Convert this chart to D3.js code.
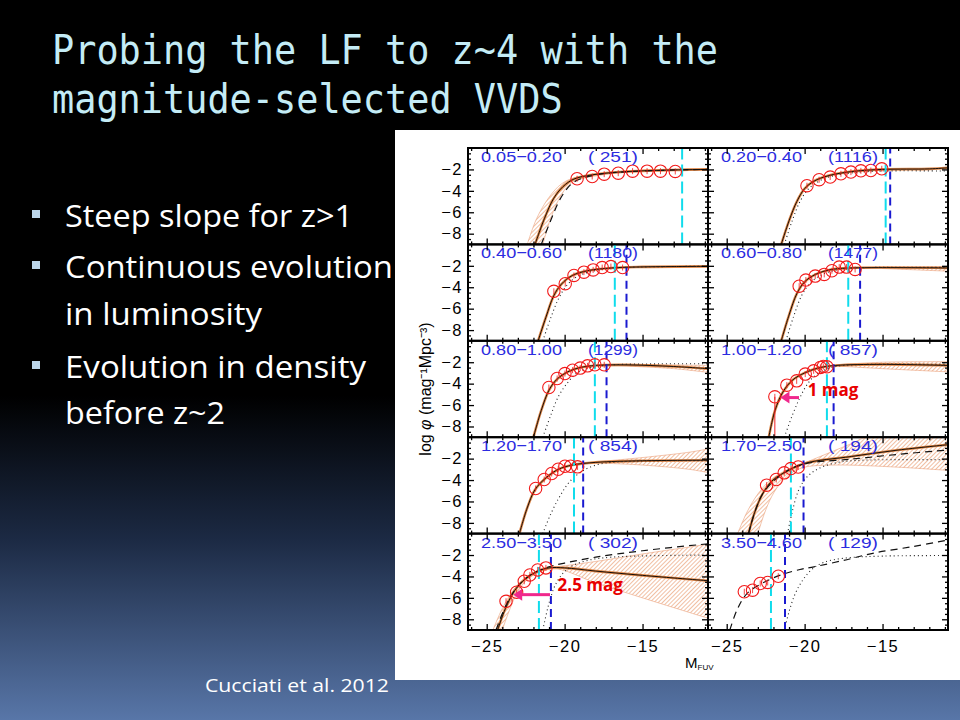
<!DOCTYPE html>
<html>
<head>
<meta charset="UTF-8">
<title>Probing the LF to z~4</title>
<script src="https://d3js.org/d3.v7.min.js"></script>
<style>
  body { margin: 0; background: #000; }
  svg { display: block; }
</style>
</head>
<body>
<svg></svg>
<script>
// ---- slide text ----
const titleLines = ["Probing the LF to z~4 with the", "magnitude-selected VVDS"];
const bulletLines = [
  {text: "Steep slope for z>1", bullet: true},
  {text: "Continuous evolution", bullet: true},
  {text: "in luminosity", bullet: false},
  {text: "Evolution in density", bullet: true},
  {text: "before z~2", bullet: false}
];
const credit = "Cucciati et al. 2012";

// ---- panels (redshift bins) ----
const zLabels = ["0.05−0.20", "0.20−0.40", "0.40−0.60", "0.60−0.80", "0.80−1.00",
                 "1.00−1.20", "1.20−1.70", "1.70−2.50", "2.50−3.50", "3.50−4.60"];
const counts = ["( 251)", "(1116)", "(1180)", "(1477)", "(1299)",
                "( 857)", "( 854)", "( 194)", "( 302)", "( 129)"];
const cyanM = [-12.46, -14.8, -16.78, -17.2, -18.06, -18.57, -19.4, -20.88, -21.65, -22.16];
const blueM = [null, -14.51, -16.03, -16.44, -17.31, -18.14, -18.81, -20.07, -20.88, -21.26];

// data points [M_FUV, log phi]
const points = [
  [[-19.2,-2.87],[-18.23,-2.66],[-17.46,-2.44],[-16.56,-2.35],[-15.64,-2.16],[-14.71,-2.16],[-13.85,-2.16],[-12.9,-2.19]],
  [[-19.85,-3.52],[-19.07,-2.96],[-18.36,-2.71],[-17.67,-2.41],[-17.03,-2.25],[-16.39,-2.13],[-15.75,-2.1],[-15.05,-1.94]],
  [[-20.69,-4.38],[-19.96,-3.67],[-19.4,-2.9],[-18.76,-2.59],[-18.17,-2.38],[-17.59,-2.16],[-17.03,-2.07],[-16.28,-2.16]],
  [[-20.35,-3.9],[-19.92,-3.33],[-19.32,-2.96],[-18.74,-2.8],[-18.25,-2.46],[-17.78,-2.12],[-17.31,-2.12],[-16.76,-2.34]],
  [[-21.01,-4.36],[-20.48,-3.52],[-19.98,-3.06],[-19.49,-2.74],[-19.0,-2.55],[-18.53,-2.34],[-18.06,-2.24],[-17.46,-2.24]],
  [[-21.91,-5.23],[-21.14,-4.14],[-20.51,-3.74],[-19.96,-3.11],[-19.42,-2.8],[-18.99,-2.49],[-18.8,-2.4],[-18.57,-2.43]],
  [[-21.86,-4.79],[-21.31,-3.95],[-20.83,-3.39],[-20.41,-2.99],[-19.98,-2.71],[-19.62,-2.71],[-19.17,-2.77]],
  [[-22.44,-4.48],[-21.82,-3.95],[-21.31,-3.33],[-20.88,-2.93],[-20.41,-2.78]],
  [[-23.76,-6.32],[-23.08,-5.47],[-22.59,-4.45],[-22.23,-3.86],[-21.73,-3.39],[-21.2,-3.2]],
  [[-23.87,-5.43],[-23.34,-5.28],[-22.85,-4.66],[-22.37,-4.56],[-21.69,-3.98]]
];

// Schechter fit (solid)
const fits = [
  [[-21.9,-9],[-21.3,-6.6],[-20.7,-4.7],[-20.1,-3.6],[-19.4,-2.9],[-18.2,-2.5],[-16,-2.2],[-13,-2.05],[-10.8,-2.0]],
  [[-21.5,-9],[-21.0,-6.8],[-20.5,-5.0],[-20.0,-3.8],[-19.4,-3.1],[-18.5,-2.6],[-17,-2.2],[-15,-2.0],[-12,-1.95],[-10.8,-1.85]],
  [[-21.7,-9],[-21.2,-6.8],[-20.7,-4.8],[-20.2,-3.7],[-19.5,-2.9],[-18.5,-2.45],[-17,-2.2],[-15,-2.1],[-10.8,-2.05]],
  [[-21.5,-9],[-21.0,-6.6],[-20.5,-4.6],[-20.0,-3.5],[-19.3,-2.8],[-18.3,-2.35],[-17,-2.2],[-10.8,-2.2]],
  [[-22.0,-9],[-21.5,-6.5],[-21.0,-4.6],[-20.5,-3.6],[-19.8,-2.9],[-19.0,-2.5],[-18.0,-2.3],[-16,-2.25],[-13,-2.4],[-10.8,-2.6]],
  [[-22.3,-9],[-21.9,-6.5],[-21.4,-4.8],[-20.8,-3.7],[-20.0,-3.0],[-19.0,-2.5],[-18.0,-2.3],[-15,-2.2],[-10.8,-2.3]],
  [[-22.9,-9],[-22.4,-6.6],[-21.9,-4.9],[-21.2,-3.8],[-20.4,-3.0],[-19.5,-2.6],[-18,-2.35],[-15,-2.2],[-10.8,-2.15]],
  [[-23.6,-9],[-23.2,-7.0],[-22.7,-5.3],[-22.1,-4.1],[-21.3,-3.3],[-20.0,-2.45],[-17,-1.8],[-14,-1.2],[-10.8,-0.7]],
  [[-24.3,-9],[-23.8,-7.0],[-23.2,-5.3],[-22.5,-4.2],[-21.7,-3.5],[-21,-3.2],[-20,-3.2],[-18,-3.5],[-15,-3.9],[-10.8,-4.4]],
  null
];

// error band edges
const bandUpper = [
  [[-22.4,-9],[-21.8,-6.6],[-21.0,-4.6],[-20.2,-3.35],[-19.4,-2.8],[-16,-2.15],[-10.8,-1.97]],
  null, null,
  [[-15,-2.18],[-10.8,-2.05]],
  [[-17,-2.22],[-13,-2.25],[-10.8,-2.3]],
  [[-18,-2.25],[-15,-2.0],[-10.8,-1.95]],
  [[-18,-2.3],[-15,-1.9],[-12,-1.4],[-10.8,-1.1]],
  [[-24.3,-9],[-23.7,-7],[-23.0,-5.3],[-22.2,-4.0],[-21.2,-3.1],[-20,-2.4],[-18.5,-1.5],[-17,-0.6],[-16,0],[-10.8,0]],
  [[-24.6,-9],[-24,-7],[-23.3,-5.3],[-22.5,-4.1],[-21.5,-3.3],[-20.5,-3.1],[-18,-2.6],[-15,-1.9],[-10.8,-1.0]],
  null
];
const bandLower = [
  [[-21.4,-9],[-20.9,-6.6],[-20.3,-4.6],[-19.7,-3.4],[-19.1,-2.95],[-16,-2.25],[-10.8,-2.03]],
  null, null,
  [[-15,-2.25],[-10.8,-2.5]],
  [[-17,-2.3],[-13,-2.6],[-10.8,-2.95]],
  [[-18,-2.35],[-15,-2.6],[-10.8,-2.9]],
  [[-18,-2.4],[-15,-2.6],[-12,-3.0],[-10.8,-3.3]],
  [[-23.0,-9],[-22.6,-7.2],[-22.1,-5.5],[-21.5,-4.2],[-20.8,-3.3],[-20,-2.8],[-18,-2.6],[-14,-2.8],[-10.8,-3.1]],
  [[-24.0,-9],[-23.5,-7],[-23.0,-5.4],[-22.4,-4.3],[-21.6,-3.6],[-20.5,-3.3],[-18,-4.6],[-15,-6.0],[-10.8,-7.9]],
  null
];

// reference LFs
const dotted = [
  null,
  [[-21.3,-9],[-20.8,-6.8],[-20.3,-5.0],[-19.8,-3.9],[-19.2,-3.2],[-18.3,-2.65],[-16.8,-2.3],[-15,-2.15],[-10.8,-2.15]],
  [[-21.4,-9],[-20.9,-6.9],[-20.4,-5.1],[-19.9,-3.9],[-19.2,-3.0],[-18.2,-2.5],[-16.8,-2.2],[-10.8,-2.05]],
  [[-21.2,-9],[-20.7,-6.7],[-20.2,-4.8],[-19.7,-3.7],[-19.0,-2.9],[-18.0,-2.4],[-16.8,-2.2],[-10.8,-2.15]],
  [[-21.4,-9],[-20.9,-7.0],[-20.4,-5.2],[-19.8,-3.9],[-19.2,-3.0],[-18.3,-2.5],[-17,-2.25],[-14,-2.15],[-10.8,-2.15]],
  [[-21.3,-9],[-20.8,-7.0],[-20.3,-5.3],[-19.8,-4.0],[-19.2,-3.1],[-18.5,-2.6],[-17.5,-2.3],[-10.8,-2.2]],
  [[-21.4,-9],[-20.9,-7.2],[-20.3,-5.5],[-19.7,-4.2],[-19.0,-3.3],[-18.2,-2.7],[-17,-2.35],[-10.8,-2.2]],
  [[-21.1,-9],[-20.8,-7.0],[-20.4,-5.0],[-19.9,-3.8],[-19.2,-3.0],[-18.3,-2.5],[-17,-2.2],[-10.8,-2.1]],
  [[-21.4,-9],[-21.0,-6.5],[-20.6,-4.8],[-20.1,-3.7],[-19.5,-3.0],[-18.5,-2.5],[-17,-2.2],[-10.8,-2.0]],
  [[-21.3,-9],[-21.0,-7.3],[-20.6,-5.6],[-20.1,-4.3],[-19.5,-3.3],[-18.8,-2.7],[-17.5,-2.3],[-15,-2.1],[-10.8,-2.05]]
];
const dashed = [
  [[-21.5,-9],[-20.9,-6.8],[-20.3,-4.8],[-19.6,-3.4],[-19.0,-2.9],[-17.5,-2.4],[-14,-2.1],[-10.8,-2.0]],
  null, null, null, null, null, null,
  [[-23.6,-9],[-22.7,-5.3],[-21.3,-3.3],[-20,-2.5],[-17,-2.05],[-14,-1.6],[-10.8,-1.2]],
  [[-24.4,-9],[-23.6,-6.2],[-22.8,-4.6],[-22,-3.7],[-21,-3.1],[-20,-2.75],[-18,-2.2],[-15,-1.6],[-10.8,-0.95]],
  [[-24.8,-9],[-24.3,-7.0],[-23.7,-5.6],[-22.8,-4.7],[-21.6,-3.9],[-20.3,-3.35],[-19.4,-3.1],[-17.5,-2.5],[-15.5,-1.8],[-13,-1.2],[-10.8,-0.6]]
];

// annotations: panel index, arrow from M1 to M2 at logphi, label position
const notes = [
  {panel: 5, m1: -20.36, m2: -21.55, phi: -5.3, text: "1 mag", tm: -19.8, tphi: -5.15},
  {panel: 8, m1: -20.94, m2: -23.3, phi: -5.7, text: "2.5 mag", tm: -20.45, tphi: -5.35}
];
const errBars = [{panel: 5, m: -21.91, top: -5.23, bottom: -9}];

const xTicks = [-25, -20, -15];
const yTicks = [-8, -6, -4, -2];

// ---- layout ----
const W = 960, H = 720;
const svg = d3.select("svg").attr("width", W).attr("height", H);
const defs = svg.append("defs");

const bg = defs.append("linearGradient").attr("id", "bg")
  .attr("x1", 0).attr("y1", 0).attr("x2", 0).attr("y2", 1);
bg.append("stop").attr("offset", "0%").attr("stop-color", "#000");
bg.append("stop").attr("offset", "55%").attr("stop-color", "#000");
bg.append("stop").attr("offset", "75%").attr("stop-color", "#1c2a44");
bg.append("stop").attr("offset", "100%").attr("stop-color", "#5876a8");
svg.append("rect").attr("width", W).attr("height", H).attr("fill", "url(#bg)");

const hatch = defs.append("pattern").attr("id", "hatch")
  .attr("patternUnits", "userSpaceOnUse").attr("width", 3).attr("height", 3)
  .attr("patternTransform", "rotate(45)");
hatch.append("line").attr("x1", 0).attr("y1", 0).attr("x2", 0).attr("y2", 3)
  .attr("stroke", "#e58a55").attr("stroke-width", 1.1);

const glow = defs.append("filter").attr("id", "glow").attr("x", "-50%").attr("y", "-50%").attr("width", "200%").attr("height", "200%");
glow.append("feGaussianBlur").attr("stdDeviation", 2.5);

// title
svg.selectAll("text.title").data(titleLines).join("text")
  .attr("class", "title")
  .attr("x", 52).attr("y", (d, i) => 64 + i * 49)
  .attr("fill", "#c4ecf6")
  .style("font-family", "'DejaVu Sans Mono', monospace")
  .style("font-size", "40px")
  .attr("textLength", d => d.length * 22.2)
  .attr("lengthAdjust", "spacingAndGlyphs")
  .text(d => d);

// bullets
const bulletY = [227, 278, 325, 378, 424];
const bulletW = [288, 328, 197, 301, 160];
const bl = svg.append("g");
bl.selectAll("text").data(bulletLines).join("text")
  .attr("x", 65).attr("y", (d, i) => bulletY[i])
  .attr("fill", "#fff")
  .style("font-family", "'Open Sans', sans-serif")
  .style("font-size", "31px")
  .attr("textLength", (d, i) => bulletW[i])
  .attr("lengthAdjust", "spacingAndGlyphs")
  .text(d => d.text);
bl.selectAll("rect").data(bulletLines.map((d, i) => ({...d, i})).filter(d => d.bullet)).join("rect")
  .attr("x", 32).attr("y", d => bulletY[d.i] - 17)
  .attr("width", 8).attr("height", 8)
  .attr("fill", "#bcd6ea");

// white figure area
svg.append("rect").attr("x", 395).attr("y", 130).attr("width", 565).attr("height", 550).attr("fill", "#fff");

svg.append("text").attr("x", 205).attr("y", 692)
  .attr("fill", "#fff")
  .style("font-family", "'Open Sans', sans-serif").style("font-size", "18px")
  .attr("textLength", 184).attr("lengthAdjust", "spacingAndGlyphs")
  .text(credit);

// ---- panels ----
const left0 = 468, top0 = 148, colW = 240, rowH = 96.4;
const lineGen = (x, y) => d3.line().x(d => x(d[0])).y(d => y(d[1])).curve(d3.curveCatmullRom.alpha(0.5));
const font = "'Liberation Sans', Arial, sans-serif";

zLabels.forEach((lab, i) => {
  const col = i % 2, row = Math.floor(i / 2);
  const x0 = left0 + col * colW, y0 = top0 + row * rowH;
  const x = d3.scaleLinear().domain([-26.2, -10.8]).range([x0, x0 + colW]);
  const y = d3.scaleLinear().domain([-9, 0]).range([y0 + rowH, y0]);
  const line = lineGen(x, y);

  defs.append("clipPath").attr("id", "clip" + i)
    .append("rect").attr("x", x0).attr("y", y0).attr("width", colW).attr("height", rowH);

  const g = svg.append("g");
  const c = g.append("g").attr("clip-path", `url(#clip${i})`);

  if (bandUpper[i]) {
    const up = line(bandUpper[i]);
    const lo = line(bandLower[i].slice().reverse());
    c.append("path").attr("d", up + "L" + lo.slice(1) + "Z")
      .attr("fill", "url(#hatch)").attr("stroke", "#eba078").attr("stroke-width", 0.6);
  }
  if (fits[i]) {
    c.append("path").attr("d", line(fits[i])).attr("fill", "none")
      .attr("stroke", "#e0884a").attr("stroke-width", 2.6);
    c.append("path").attr("d", line(fits[i])).attr("fill", "none")
      .attr("stroke", "#000").attr("stroke-width", 0.9);
  }
  if (dotted[i]) {
    c.append("path").attr("d", line(dotted[i])).attr("fill", "none")
      .attr("stroke", "#222").attr("stroke-width", 1.1).attr("stroke-dasharray", "1,3");
  }
  if (dashed[i]) {
    c.append("path").attr("d", line(dashed[i])).attr("fill", "none")
      .attr("stroke", "#111").attr("stroke-width", 1.2).attr("stroke-dasharray", "7,5");
  }
  c.append("line").attr("x1", x(cyanM[i])).attr("x2", x(cyanM[i]))
    .attr("y1", y(-9)).attr("y2", y(0))
    .attr("stroke", "#10dcec").attr("stroke-width", 2).attr("stroke-dasharray", "12,5");
  if (blueM[i] !== null) {
    c.append("line").attr("x1", x(blueM[i])).attr("x2", x(blueM[i]))
      .attr("y1", y(-9)).attr("y2", y(0))
      .attr("stroke", "#1a1ad0").attr("stroke-width", 2).attr("stroke-dasharray", "8,5");
  }

  errBars.filter(e => e.panel === i).forEach(e => {
    c.append("line").attr("x1", x(e.m)).attr("x2", x(e.m))
      .attr("y1", y(e.top)).attr("y2", y(e.bottom))
      .attr("stroke", "#f02020").attr("stroke-width", 1);
  });

  c.selectAll("circle").data(points[i]).join("circle")
    .attr("cx", d => x(d[0])).attr("cy", d => y(d[1])).attr("r", 6.2)
    .attr("fill", "none").attr("stroke", "#f21a1a").attr("stroke-width", 1.1);
  c.selectAll("line.eb").data(points[i]).join("line").attr("class", "eb")
    .attr("x1", d => x(d[0])).attr("x2", d => x(d[0]))
    .attr("y1", d => y(d[1]) - 3).attr("y2", d => y(d[1]) + 3)
    .attr("stroke", "#f21a1a").attr("stroke-width", 0.8);

  // annotations
  notes.filter(n => n.panel === i).forEach(n => {
    const a = g.append("g");
    a.append("line").attr("x1", x(n.m1)).attr("x2", x(n.m2) + 4)
      .attr("y1", y(n.phi)).attr("y2", y(n.phi))
      .attr("stroke", "#ff4fa8").attr("stroke-width", 9).attr("stroke-opacity", 0.45)
      .attr("filter", "url(#glow)");
    a.append("line").attr("x1", x(n.m1)).attr("x2", x(n.m2) + 6)
      .attr("y1", y(n.phi)).attr("y2", y(n.phi))
      .attr("stroke", "#f0288c").attr("stroke-width", 3);
    const ax = x(n.m2), ay = y(n.phi);
    a.append("path").attr("d", `M${ax},${ay}L${ax + 9},${ay - 6}L${ax + 9},${ay + 6}Z`)
      .attr("fill", "#f0288c");
    g.append("text").attr("x", x(n.tm)).attr("y", y(n.tphi))
      .attr("fill", "#e80000").style("font-family", "'Open Sans', sans-serif")
      .style("font-size", "17px").style("font-weight", "bold")
      .text(n.text);
  });

  // labels
  g.append("text").attr("x", x0 + 13).attr("y", y0 + 14)
    .attr("fill", "#2c2ce0").style("font-family", font).style("font-size", "15.5px")
    .attr("textLength", 81).attr("lengthAdjust", "spacingAndGlyphs")
    .text(lab);
  g.append("text").attr("x", x0 + 120).attr("y", y0 + 14)
    .attr("fill", "#2c2ce0").style("font-family", font).style("font-size", "15.5px")
    .attr("textLength", 50).attr("lengthAdjust", "spacingAndGlyphs")
    .attr("xml:space", "preserve")
    .text(counts[i]);

  // axes with inward ticks on all four sides
  const yMinor = d3.range(-8.5, 0, 0.5).filter(v => v % 2 !== 0);
  const xMinor = d3.range(-26, -10.8, 1).filter(v => v % 5 !== 0);
  const addAxis = (axis, tx, ty, labels) => {
    const a = g.append("g").attr("transform", `translate(${tx},${ty})`).call(axis);
    a.select(".domain").remove();
    a.selectAll("line").attr("stroke", "#000").attr("stroke-width", 1.3);
    a.selectAll("text").style("font-family", font).style("font-size", "16.5px")
      .style("letter-spacing", "1.5px").attr("fill", "#000");
    if (!labels) a.selectAll("text").remove();
    return a;
  };
  addAxis(d3.axisLeft(y).tickValues(yTicks).tickSize(-6).tickPadding(5), x0, 0, col === 0);
  addAxis(d3.axisLeft(y).tickValues(yMinor).tickSize(-3), x0, 0, false);
  addAxis(d3.axisRight(y).tickValues(yTicks).tickSize(-6), x0 + colW, 0, false);
  addAxis(d3.axisRight(y).tickValues(yMinor).tickSize(-3), x0 + colW, 0, false);
  addAxis(d3.axisTop(x).tickValues(xTicks).tickSize(-6), 0, y0, false);
  addAxis(d3.axisTop(x).tickValues(xMinor).tickSize(-3), 0, y0, false);
  addAxis(d3.axisBottom(x).tickValues(xTicks).tickSize(-6).tickPadding(10), 0, y0 + rowH, row === 4);
  addAxis(d3.axisBottom(x).tickValues(xMinor).tickSize(-3), 0, y0 + rowH, false);

  g.append("rect").attr("x", x0).attr("y", y0).attr("width", colW).attr("height", rowH)
    .attr("fill", "none").attr("stroke", "#000").attr("stroke-width", 2);
});

// axis titles
const yTitle = svg.append("text")
  .attr("transform", `translate(431,${top0 + rowH * 2.5}) rotate(-90)`)
  .attr("text-anchor", "middle")
  .style("font-family", font).style("font-size", "16px").attr("fill", "#000");
yTitle.append("tspan").text("log ");
yTitle.append("tspan").style("font-style", "italic").text("φ");
yTitle.append("tspan").text(" (mag⁻¹Mpc⁻³)");

const xTitle = svg.append("text").attr("x", 685).attr("y", 668)
  .style("font-family", font).attr("fill", "#000");
xTitle.append("tspan").style("font-size", "15px").text("M");
xTitle.append("tspan").style("font-size", "8px").attr("dy", 2).text("FUV");
</script>
</body>
</html>
